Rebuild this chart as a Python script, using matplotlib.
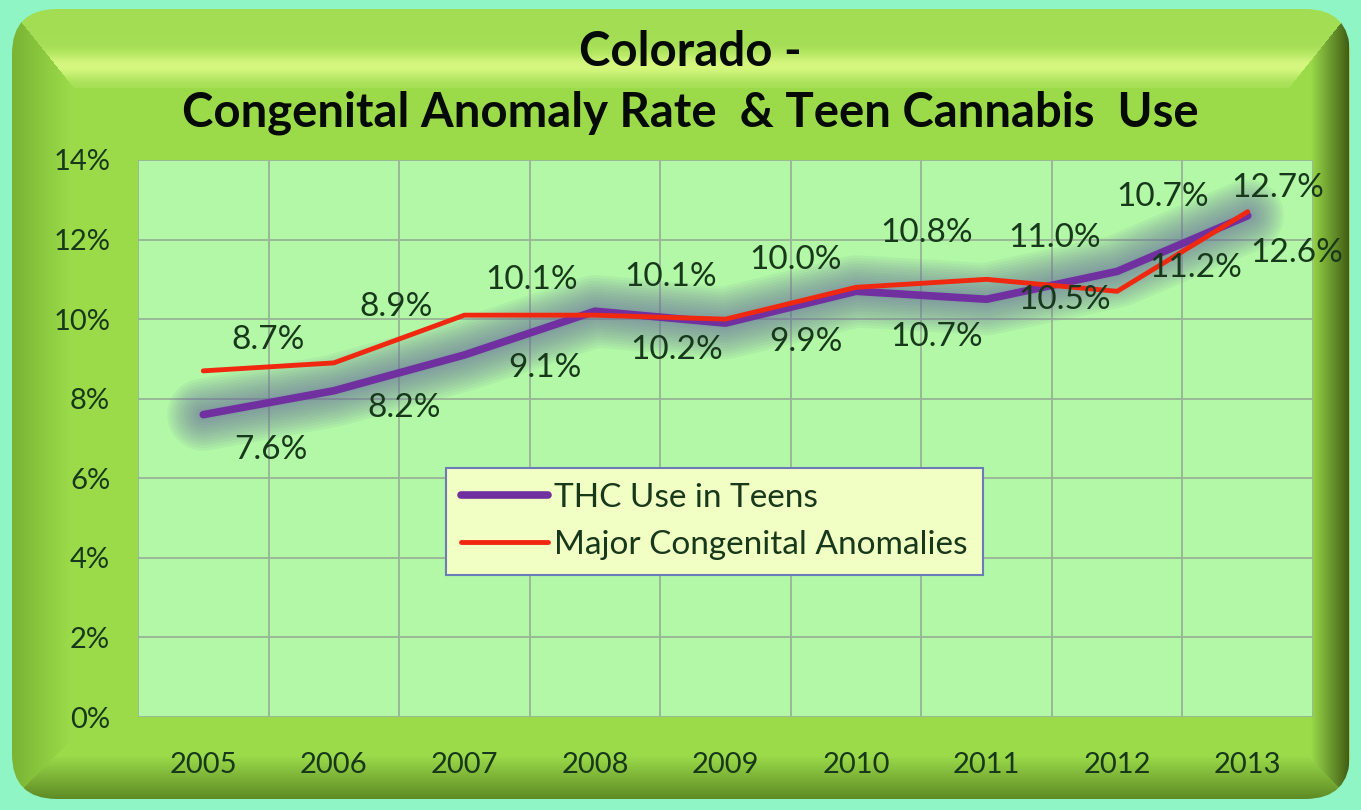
import numpy as np
import matplotlib
matplotlib.use("Agg")
import matplotlib.pyplot as plt
from matplotlib.patches import FancyBboxPatch
from matplotlib.ticker import FuncFormatter, MultipleLocator

years = ["2005", "2006", "2007", "2008", "2009", "2010", "2011", "2012", "2013"]
thc_teens = [7.6, 8.2, 9.1, 10.2, 9.9, 10.7, 10.5, 11.2, 12.6]
anomalies = [8.7, 8.9, 10.1, 10.1, 10.0, 10.8, 11.0, 10.7, 12.7]

# hand-placed data label nudges, in pixels from the point (x right, y up)
thc_shift = [(68, -35), (70, -17), (81, -13), (82, -39), (80, -19),
             (81, -46), (78, -1), (79, 3), (49, -37)]
anom_shift = [(65, 31), (62, 56), (67, 35), (76, 38), (70, 59),
              (71, 54), (68, 41), (45, 94), (30, 24)]

W, H, DPI = 1361, 810, 100
FONT = "Lato"
PURPLE = "#7030a0"
RED = "#f02810"
TEXT = "#17381a"


def panel_image(w, h):
    """Beveled green frame, drawn as an RGB array in pixel space."""
    yy, xx = np.mgrid[0:h, 0:w].astype(float)
    left, right, top, bottom = 10, 1352, 8, 800
    base = np.array([0.61, 0.86, 0.29])
    img = np.empty((h, w, 3))
    img[:] = base
    dl, dr = xx - left, right - xx
    dt, db = yy - top, bottom - yy

    # top bevel: mid green at the edge, pale highlight band lower down
    t = dt / 80.0
    glow = np.exp(-((t - 0.72) / 0.16) ** 2)[..., None]
    edge = np.array([0.64, 0.87, 0.33])
    top_col = edge + (np.array([0.84, 0.97, 0.50]) - edge) * glow
    m_top = (dt < 80) & (dt * 0.8 <= dl) & (dt * 0.8 <= dr)
    img[m_top] = top_col[m_top]

    # left bevel
    s = np.clip(dl / 60.0, 0, 1)[..., None]
    left_col = np.array([0.47, 0.70, 0.20]) * (1 - s) + base * s
    m_left = (dl < 60) & (dl < dt * 0.8) & (dl <= db)
    img[m_left] = left_col[m_left]

    # bottom bevel
    s = np.clip(db / 45.0, 0, 1)[..., None]
    bot_col = np.array([0.36, 0.53, 0.14]) * (1 - s) + base * s
    m_bot = (db < 45) & (db < dl) & (db < dr)
    img[m_bot] = bot_col[m_bot]

    # right bevel: deep olive shading with a thin light rim
    s = np.clip(dr / 42.0, 0, 1)[..., None]
    right_col = np.array([0.22, 0.32, 0.06]) * (1 - s) + base * s
    m_right = (dr < 42) & (dr < dt * 0.8) & (dr <= db)
    img[m_right] = right_col[m_right]
    rim = (dr >= 0) & (dr < 4) & (dt > 30) & (db > 30)
    img[rim] = [0.64, 0.82, 0.44]
    return np.clip(img, 0, 1)


fig = plt.figure(figsize=(W / DPI, H / DPI), dpi=DPI)
fig.patch.set_facecolor("#8ff5c4")

# frame
bg = fig.add_axes([0, 0, 1, 1], zorder=0)
bg.set_xlim(0, W)
bg.set_ylim(H, 0)
bg.axis("off")
im = bg.imshow(panel_image(W, H), extent=(0, W, H, 0), aspect="auto")
frame = FancyBboxPatch((12, 9), 1338, 790,
                       boxstyle="round,pad=0,rounding_size=45",
                       transform=bg.transData, facecolor="none", edgecolor="none")
bg.add_patch(frame)
im.set_clip_path(frame)

# plot area
px0, px1, py0, py1 = 138, 1313, 160, 717
ax = fig.add_axes([px0 / W, 1 - py1 / H, (px1 - px0) / W, (py1 - py0) / H],
                  zorder=1)
ax.set_facecolor("#b2f8a6")
x = np.arange(len(years))
ax.set_xlim(-0.5, len(years) - 0.5)
ax.set_ylim(0, 14)
ax.yaxis.set_major_locator(MultipleLocator(2))
ax.yaxis.set_major_formatter(FuncFormatter(lambda v, _: f"{v:.0f}%"))
ax.set_xticks(x)
ax.set_xticklabels(years)
ax.set_xticks(np.arange(-0.5, len(years)), minor=True)
ax.grid(True, which="major", axis="y", color="#98b496", lw=1.3)
ax.grid(True, which="minor", axis="x", color="#98b496", lw=1.3)
ax.set_axisbelow(True)
ax.tick_params(which="both", length=0)
ax.tick_params(axis="y", pad=20, labelsize=21, labelcolor=TEXT)
ax.tick_params(axis="x", pad=25, labelsize=21, labelcolor=TEXT)
for lab in ax.get_xticklabels() + ax.get_yticklabels():
    lab.set_fontfamily(FONT)
for sp in ax.spines.values():
    sp.set_visible(False)

# soft shadow under the teen-use line
for lw in range(52, 6, -4):
    ax.plot(x, thc_teens, color="#66689e", lw=lw, alpha=0.07,
            solid_capstyle="round", solid_joinstyle="round", zorder=2)
ax.plot(x, thc_teens, color=PURPLE, lw=5.5, solid_capstyle="round",
        label="THC Use in Teens", zorder=3)
ax.plot(x, anomalies, color=RED, lw=3.5, solid_capstyle="round",
        label="Major Congenital Anomalies", zorder=4)

for xi, v, (dx, dy) in zip(x, thc_teens, thc_shift):
    ax.annotate(f"{v:.1f}%", (xi, v), xytext=(dx, dy), textcoords="offset pixels",
                ha="center", va="center", fontsize=24, color=TEXT,
                family=FONT, zorder=5, annotation_clip=False)
for xi, v, (dx, dy) in zip(x, anomalies, anom_shift):
    ax.annotate(f"{v:.1f}%", (xi, v), xytext=(dx, dy), textcoords="offset pixels",
                ha="center", va="center", fontsize=24, color=TEXT,
                family=FONT, zorder=5, annotation_clip=False)

leg = ax.legend(loc="upper left", bbox_to_anchor=((446 - px0) / (px1 - px0),
                                                  (py1 - 468) / (py1 - py0)),
                borderaxespad=0, frameon=True, fancybox=False,
                prop={"family": FONT, "size": 24}, labelcolor=TEXT,
                handlelength=2.6, handletextpad=0.2, borderpad=0.45,
                labelspacing=0.5)
leg.get_frame().set_facecolor("#f2ffc4")
leg.get_frame().set_edgecolor("#6c7cb8")
leg.get_frame().set_linewidth(1.5)
leg.get_frame().set_alpha(1)
leg.set_zorder(6)

fig.text(690 / W, 1 - 52 / H, "Colorado -", ha="center", va="center",
         fontsize=34, fontweight="bold", family=FONT, color="#050a05")
fig.text(690 / W, 1 - 113 / H, "Congenital Anomaly Rate  & Teen Cannabis  Use",
         ha="center", va="center", fontsize=34, fontweight="bold",
         family=FONT, color="#050a05")

fig.savefig("out.png", dpi=DPI, facecolor=fig.get_facecolor())
